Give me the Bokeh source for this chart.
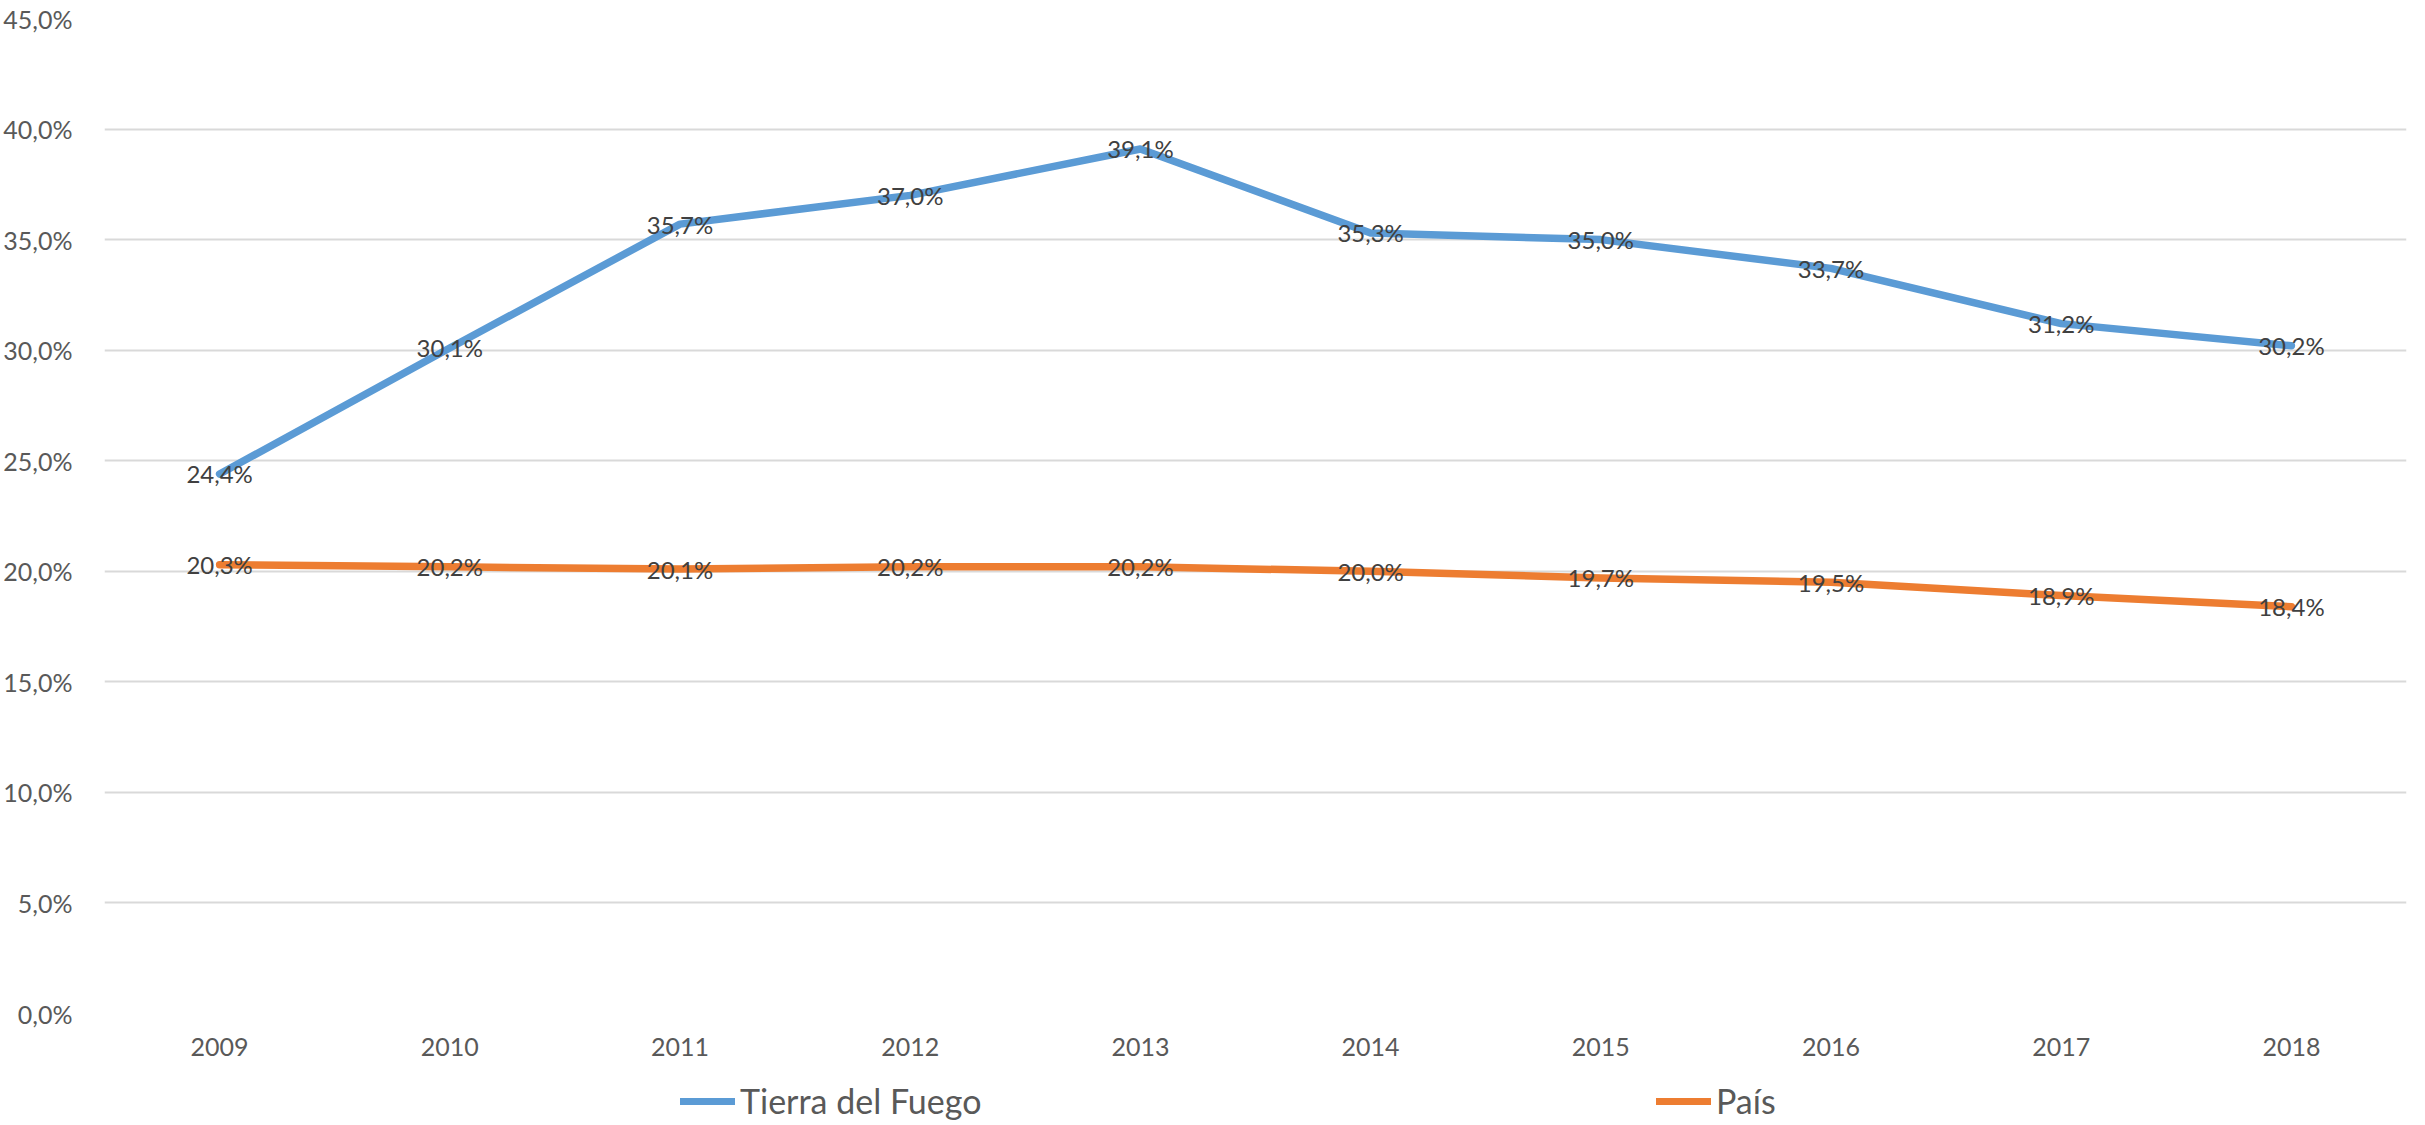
from bokeh.plotting import figure
from bokeh.layouts import column
from bokeh.models import ColumnDataSource, CustomJSTickFormatter, FixedTicker, Legend, LegendItem, Range1d, FactorRange
from bokeh.core.properties import value
from bokeh.embed import file_html
from bokeh.resources import INLINE

years = ["2009", "2010", "2011", "2012", "2013", "2014", "2015", "2016", "2017", "2018"]
tierra = [24.4, 30.1, 35.7, 37.0, 39.1, 35.3, 35.0, 33.7, 31.2, 30.2]
pais = [20.3, 20.2, 20.1, 20.2, 20.2, 20.0, 19.7, 19.5, 18.9, 18.4]
y_ticks = [0, 5, 10, 15, 20, 25, 30, 35, 40, 45]
series_names = ["Tierra del Fuego", "País"]
series_colors = ["#5b9bd5", "#ed7d31"]

def fmt(v):
    return ("%.1f" % v).replace(".", ",") + "%"

src_t = ColumnDataSource(dict(x=years, y=tierra, lab=[fmt(v) for v in tierra]))
src_p = ColumnDataSource(dict(x=years, y=pais, lab=[fmt(v) for v in pais]))

FONT = "Lato"

p = figure(width=2409, height=1075, x_range=FactorRange(*years, range_padding=0),
           y_range=Range1d(0, 45), output_backend="svg", toolbar_location=None,
           min_border_left=91, min_border_right=3, min_border_top=18, min_border_bottom=62)
p.outline_line_color = None
p.background_fill_color = "white"
p.border_fill_color = "white"

p.xgrid.grid_line_color = None
p.ygrid.grid_line_color = "#d9d9d9"
p.ygrid.grid_line_width = 2
p.yaxis.ticker = FixedTicker(ticks=y_ticks)
p.yaxis.formatter = CustomJSTickFormatter(code="return tick.toFixed(1).replace('.', ',') + '%';")

for ax in (p.xaxis[0], p.yaxis[0]):
    ax.axis_line_color = None
    ax.major_tick_line_color = None
    ax.minor_tick_line_color = None
    ax.major_label_text_font = FONT
    ax.major_label_text_font_size = "25px"
    ax.major_label_text_color = "#595959"
p.yaxis.major_label_standoff = 26
p.xaxis.major_label_standoff = 18

p.line("x", "y", source=src_t, line_color=series_colors[0], line_width=7.5, line_join="round", line_cap="round")
p.line("x", "y", source=src_p, line_color=series_colors[1], line_width=7.5, line_join="round", line_cap="round")

for s in (src_t, src_p):
    p.text("x", "y", text="lab", source=s, text_align="center", text_baseline="middle",
           text_font=value(FONT), text_font_size="24px", text_color="#404040")

# legend strip below the chart (series lines lie outside its y range, so only the legend shows)
lf = figure(width=2409, height=46, x_range=FactorRange(*years, range_padding=0),
            y_range=Range1d(100, 101), x_axis_type=None, y_axis_type=None,
            output_backend="svg", toolbar_location=None, min_border=0)
lf.outline_line_color = None
lf.xgrid.grid_line_color = None
lf.ygrid.grid_line_color = None
items = []
for name, col, src in zip(series_names, series_colors, (src_t, src_p)):
    r = lf.line("x", "y", source=src, line_color=col, line_width=7, line_cap="round")
    items.append(LegendItem(label=name, renderers=[r]))

legend = Legend(items=items, orientation="horizontal", location=(576, 0), spacing=674,
                padding=0, margin=0, glyph_width=55, glyph_height=40,
                label_standoff=5, label_width=242, label_height=40,
                label_text_font=FONT, label_text_font_size="34px", label_text_color="#595959",
                border_line_color=None, background_fill_alpha=0)
lf.add_layout(legend, "center")

layout = column(p, lf, spacing=0)
open("out.html", "w").write(file_html(layout, INLINE))
